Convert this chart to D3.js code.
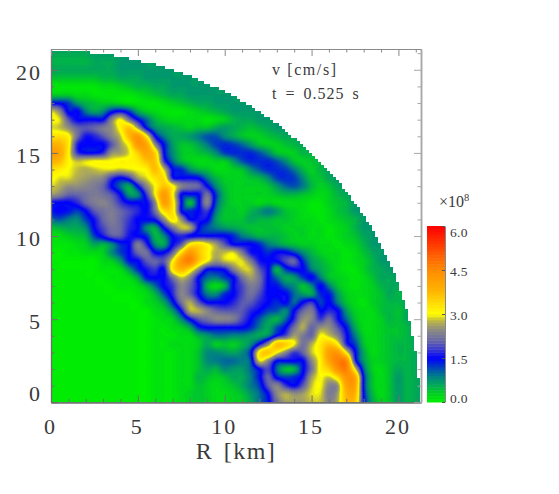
<!DOCTYPE html>
<html><head><meta charset="utf-8">
<script src="https://cdnjs.cloudflare.com/ajax/libs/d3/7.8.5/d3.min.js"></script>
<style>html,body{margin:0;background:#fff}svg{display:block}text{font-family:"Liberation Serif",serif;fill:#3a3a3a}</style>
</head><body><svg id="c" width="559" height="494"></svg>
<script>
// speed, in units of 1e7 cm/s, on a 0.5 km grid: rows run upward in z, entries rightward in R
const z00=[0,0,0,0,0,0,0,0,0,0,0,0,1,1,1,2,3,4,3,2,2,3,3,6,10,14,22,26,26,26,28,28,24,27,37,36,15,6,3,4,7,5,6];
const z05=[0,0,0,0,0,0,0,0,0,0,0,0,1,1,1,2,3,4,3,2,2,3,4,7,10,15,24,27,25,26,29,29,23,26,38,38,14,5,2,4,7,5,6];
const z10=[0,0,0,0,0,0,0,0,0,0,0,0,1,1,1,2,2,4,3,2,3,4,6,9,12,20,24,18,15,20,28,30,24,25,40,40,13,4,2,4,7,5,6];
const z15=[0,0,0,0,0,0,0,0,0,0,0,0,1,1,1,2,2,5,4,3,4,6,6,9,14,21,14,12,13,16,26,30,28,33,43,40,13,4,2,4,7,5,6];
const z20=[0,0,0,0,0,0,0,0,0,0,0,0,1,1,1,2,2,4,6,5,8,7,7,10,15,19,10,4,5,14,22,31,35,43,46,29,10,3,2,4,6,5,6];
const z25=[0,0,0,0,0,0,0,0,0,0,0,0,1,1,1,2,2,4,8,9,10,10,9,11,29,24,15,15,15,15,24,31,40,46,44,17,7,3,3,4,5,5,6];
const z30=[0,0,0,0,0,0,0,0,0,0,0,0,1,1,1,2,2,4,8,8,7,6,8,13,32,36,30,24,18,21,28,32,41,42,30,15,6,2,3,4,5,5,6];
const z35=[0,0,0,0,0,0,0,0,0,0,0,0,1,1,2,2,2,3,6,3,4,3,5,8,15,24,36,35,30,22,27,32,36,31,17,12,4,2,3,4,5,5,6];
const z40=[0,0,0,0,0,0,0,0,0,0,0,0,1,1,1,2,2,5,7,9,9,8,8,7,6,8,15,19,26,23,21,30,28,24,16,9,3,2,3,4,4,5,6];
const z45=[0,0,0,0,0,0,0,0,0,0,0,0,1,1,2,3,6,13,15,15,15,15,15,13,9,6,11,15,22,27,21,25,25,20,14,6,2,2,3,4,4,5,6];
const z50=[0,0,0,0,0,0,0,0,0,0,0,0,1,2,3,8,15,20,22,24,24,23,19,15,11,7,5,10,17,25,24,18,22,16,10,4,2,2,3,5,4,6,6];
const z55=[0,0,0,0,0,0,0,0,0,0,0,0,2,3,7,15,27,27,24,21,20,20,20,17,15,12,11,8,15,21,23,15,17,15,7,3,2,2,4,5,4,6,6];
const z60=[0,0,0,0,0,0,0,0,0,0,0,2,3,6,13,22,27,20,15,15,15,17,20,20,17,15,13,15,10,15,18,12,15,9,4,2,1,3,4,5,5,6,6];
const z65=[0,0,0,0,0,0,0,0,0,0,1,2,5,11,17,24,21,15,9,8,13,15,19,22,19,15,15,15,10,7,6,13,14,7,3,2,2,3,4,6,5,6,6];
const z70=[0,0,0,0,0,0,0,0,1,1,2,5,10,15,18,24,21,15,5,2,5,15,19,23,21,15,14,10,8,4,8,15,9,4,2,1,2,3,5,6,6,7,7];
const z75=[0,0,0,0,0,0,0,1,1,2,6,14,15,15,22,28,24,15,10,9,12,15,22,26,22,15,10,6,7,12,15,9,4,3,2,1,2,4,6,6,7,7,7];
const z80=[0,0,0,0,0,0,1,1,2,7,13,16,18,15,32,38,33,24,15,15,16,23,28,28,20,15,5,12,15,15,9,6,4,2,1,1,3,5,6,7,7,7,7];
const z85=[0,0,0,0,0,0,2,3,7,14,15,20,21,20,30,42,46,36,30,25,28,29,29,23,16,15,15,19,21,13,7,5,3,2,1,2,3,5,7,7,7,7,7];
const z90=[0,0,1,1,2,2,3,8,12,15,21,22,15,15,21,33,42,36,31,27,28,29,23,16,15,13,15,15,12,8,5,3,2,2,1,2,4,6,7,7,7,7,7];
const z95=[1,1,1,2,3,6,5,8,13,15,23,17,8,6,15,20,31,33,30,26,20,15,15,15,13,9,7,5,4,3,3,2,2,1,2,3,5,7,7,7,7,7,7];
const z100=[1,2,3,4,5,12,16,20,20,16,15,13,5,8,15,17,15,15,15,15,15,13,9,7,5,5,5,4,3,3,2,2,1,2,3,4,6,7,7,7,7,7,7];
const z105=[4,5,6,6,8,15,19,22,21,17,15,8,6,15,22,28,27,15,11,9,7,6,5,4,4,4,4,3,3,3,2,2,1,2,3,5,7,7,7,7,7,7,7];
const z110=[10,11,9,8,12,16,21,23,21,18,15,15,16,24,32,25,15,16,15,7,4,4,4,6,5,5,4,4,3,2,2,1,2,3,4,5,7,7,7,7,7,7,7];
const z115=[14,15,14,12,15,20,22,23,21,19,17,15,22,33,33,15,13,15,18,9,4,4,3,5,7,9,7,4,3,2,1,1,2,4,5,7,7,7,7,7,7,7,7];
const z120=[15,15,15,17,21,23,24,22,18,15,15,15,24,41,33,15,4,14,24,11,5,3,3,3,2,3,2,2,2,2,1,1,3,4,5,7,7,7,7,7,7,7,7];
const z125=[26,24,21,21,22,23,22,20,15,7,8,18,30,42,31,15,14,15,22,12,5,3,3,3,3,3,4,5,5,4,3,2,3,5,6,7,7,7,7,7,7,7,7];
const z130=[29,27,25,25,24,23,21,15,10,6,15,24,30,36,31,24,22,21,15,8,4,3,3,3,3,4,7,10,11,9,5,3,4,6,7,7,7,7,7,7,7,7,7];
const z135=[31,29,29,27,26,25,24,18,15,18,26,29,33,33,16,15,15,14,9,5,3,3,3,4,5,8,12,13,12,8,4,4,6,7,7,7,7,7,7,7,7,7,7];
const z140=[33,32,30,28,27,28,29,29,28,29,30,31,37,28,15,13,8,5,4,2,2,3,4,8,11,13,13,12,9,5,3,5,6,7,7,7,7,7,7,7,7,7,7];
const z145=[38,37,31,28,29,30,30,30,31,31,32,36,36,18,10,5,3,2,2,3,3,7,11,13,13,13,11,8,4,3,4,5,6,7,7,7,7,7,7,7,7,7,7];
const z150=[42,40,31,18,15,15,17,25,26,29,35,40,34,15,8,4,3,4,5,8,12,13,13,13,11,8,4,3,3,5,5,6,7,7,7,7,7,7,7,7,7,7,7];
const z155=[38,38,32,17,15,15,15,20,26,31,42,40,24,14,7,4,4,6,9,12,13,12,10,7,4,3,3,4,5,6,6,7,7,7,7,7,7,7,7,7,7,7,7];
const z160=[33,33,31,22,16,17,20,24,28,37,42,31,15,9,6,6,7,9,11,11,8,6,4,3,3,4,5,6,6,7,7,7,7,7,7,7,7,7,7,7,7,7,7];
const z165=[29,28,25,21,20,21,23,25,31,36,26,14,8,6,5,4,3,4,4,6,7,6,5,4,5,6,7,7,7,7,7,7,7,7,7,7,7,7,7,7,7,7,7];
const z170=[30,29,20,15,15,15,15,24,30,22,15,10,5,3,2,2,2,2,1,2,3,5,6,6,7,7,7,7,7,7,7,7,7,7,7,7,7,7,7,7,7,7,7];
const z175=[29,24,14,15,9,6,8,13,15,12,6,3,2,1,1,1,2,3,4,5,6,7,7,7,7,7,7,7,7,7,7,7,7,7,7,7,7,7,7,7,7,7,7];
const z180=[14,14,12,7,5,4,3,3,2,1,1,1,1,2,3,4,5,6,6,7,7,7,7,7,7,7,7,7,7,7,7,7,7,7,7,7,7,7,7,7,7,7,7];
const z185=[3,3,3,2,2,1,1,1,1,1,2,3,4,5,6,6,7,7,7,7,7,7,7,7,7,7,7,7,7,7,7,7,7,7,7,7,7,7,7,7,7,7,7];
const z190=[1,1,1,1,1,1,2,2,3,4,5,5,6,6,7,7,7,7,7,7,7,7,7,7,7,7,7,7,7,7,7,7,7,7,7,7,7,7,7,7,7,7,7];
const z195=[4,4,4,4,4,4,5,5,6,6,6,7,7,7,7,7,7,7,7,7,7,7,7,7,7,7,7,7,7,7,7,7,7,7,7,7,7,7,7,7,7,7,7];
const z200=[6,6,6,6,6,6,6,6,7,7,7,7,7,7,7,7,7,7,7,7,7,7,7,7,7,7,7,7,7,7,7,7,7,7,7,7,7,7,7,7,7,7,7];
const z205=[5,5,5,5,5,6,6,6,7,7,7,7,7,7,7,7,7,7,7,7,7,7,7,7,7,7,7,7,7,7,7,7,7,7,7,7,7,7,7,7,7,7,7];
const z210=[6,6,6,6,6,7,7,7,7,7,7,7,7,7,7,7,7,7,7,7,7,7,7,7,7,7,7,7,7,7,7,7,7,7,7,7,7,7,7,7,7,7,7];
const gridRows=[z00,z05,z10,z15,z20,z25,z30,z35,z40,z45,z50,z55,z60,z65,z70,z75,z80,z85,z90,z95,z100,z105,z110,z115,z120,z125,z130,z135,z140,z145,z150,z155,z160,z165,z170,z175,z180,z185,z190,z195,z200,z205,z210];

const colorValues=[0,3,6,9,12,15,18,21,25,28,30,38,45,60];
const colorHexes=["#00f000","#00d020","#00a858","#007f88","#0040c0","#0000ff","#3838d0","#6868a8","#908f80","#c0bb40","#ffff00","#ffb400","#ff8c00","#ff0000"];
const cbTicks=[0,1.5,3,4.5,6];
const axisTicks=[0,5,10,15,20];
const minorTicks=d3.range(0,22);
const titleLines=["v [cm/s]","t = 0.525 s"];
const gridSize=0.5, radiusR=21.2, radiusZ=21.16, nCols=43, nRows=43, ups=4;

const svg=d3.select("#c");
const x=d3.scaleLinear().domain([0,21.3]).range([51,421]);
const y=d3.scaleLinear().domain([0,21.25]).range([402.3,49]);
const color=d3.scaleLinear().domain(colorValues).range(colorHexes).clamp(true);

// stair-stepped outer edge
const stairPx=3, q=v=>Math.round(v/stairPx)*stairPx, clipP=d3.path();
clipP.moveTo(x(0.06),y(0));
let px=q(x(radiusR)), py=y(0);
clipP.lineTo(px,py);
d3.range(0,Math.PI/2,0.004).forEach(a=>{
  const nx=q(x(radiusR*Math.cos(a))), ny=q(y(radiusZ*Math.sin(a)))+0.3;
  if(nx!==px||ny!==py){clipP.lineTo(px,ny);clipP.lineTo(nx,ny);px=nx;py=ny;}
});
clipP.lineTo(x(0.06),py);clipP.closePath();
svg.append("defs").append("clipPath").attr("id","disk").append("path").attr("d",clipP.toString());

// smooth the read-off grid for display (Catmull-Rom), then fill contour bands
const at=(i,j)=>gridRows[Math.max(0,Math.min(nRows-1,j))][Math.max(0,Math.min(nCols-1,i))];
const cr=(a,b,c,d,t)=>0.5*((2*b)+(-a+c)*t+(2*a-5*b+4*c-d)*t*t+(-a+3*b-3*c+d)*t*t*t);
function sample(u,v){
  const i=Math.floor(u),j=Math.floor(v),s=u-i,t=v-j,col=[];
  for(let m=-1;m<=2;m++)col.push(cr(at(i-1,j+m),at(i,j+m),at(i+1,j+m),at(i+2,j+m),s));
  return cr(col[0],col[1],col[2],col[3],t);
}
const fine=(nCols+1)*ups;
const flat=new Float64Array(fine*fine);
for(let b=0;b<fine;b++)for(let a=0;a<fine;a++)flat[b*fine+a]=sample(a/ups,b/ups);
const thresholds=d3.range(0,52,0.5);
const contours=d3.contours().size([fine,fine]).thresholds(thresholds)(flat);
const proj=d3.geoPath(d3.geoTransform({point(a,b){this.stream.point(x((a-.5)/ups*gridSize),y((b-.5)/ups*gridSize));}}));
const g=svg.append("g").attr("clip-path","url(#disk)");
g.append("rect").attr("x",x(0)).attr("y",y(21.25)).attr("width",x(21.3)-x(0)).attr("height",y(0)-y(21.25)).attr("fill",color(0));
g.selectAll("path").data(contours).join("path").attr("d",proj).attr("fill",d=>color(d.value+0.25)).attr("stroke",d=>color(d.value+0.25)).attr("stroke-width",0.3);

// axes
const fs=22;
function sty(a,c,w){a.selectAll("path,line").attr("stroke",c);a.select(".domain").attr("stroke-width",w);}
const bottomMaj=svg.append("g").attr("transform","translate(0,402.3)").call(d3.axisBottom(x).tickValues(axisTicks).tickSize(-7).tickSizeOuter(0).tickPadding(16));
const bottomMin=svg.append("g").attr("transform","translate(0,402.3)").call(d3.axisBottom(x).tickValues(minorTicks.filter(v=>v%5)).tickSize(-3.5).tickSizeOuter(0).tickFormat(""));
const leftMaj=svg.append("g").attr("transform","translate(51,0)").call(d3.axisLeft(y).tickValues(axisTicks).tickSize(-7).tickSizeOuter(0).tickPadding(9));
const leftMin=svg.append("g").attr("transform","translate(51,0)").call(d3.axisLeft(y).tickValues(minorTicks.filter(v=>v%5)).tickSize(-3.5).tickSizeOuter(0).tickFormat(""));
const topMaj=svg.append("g").attr("transform","translate(0,49)").call(d3.axisTop(x).tickValues(axisTicks).tickSize(-7).tickSizeOuter(0).tickFormat(""));
const topMin=svg.append("g").attr("transform","translate(0,49)").call(d3.axisTop(x).tickValues(minorTicks.filter(v=>v%5)).tickSize(-3.5).tickSizeOuter(0).tickFormat(""));
const rightMaj=svg.append("g").attr("transform","translate(421,0)").call(d3.axisRight(y).tickValues(axisTicks).tickSize(-7).tickSizeOuter(0).tickFormat(""));
const rightMin=svg.append("g").attr("transform","translate(421,0)").call(d3.axisRight(y).tickValues(minorTicks.filter(v=>v%5)).tickSize(-3.5).tickSizeOuter(0).tickFormat(""));
[bottomMaj,bottomMin,leftMaj,leftMin].forEach(a=>sty(a,"#707070",1.2));
[topMaj,topMin].forEach(a=>sty(a,"#8a8a8a",1.2));
[rightMaj,rightMin].forEach(a=>sty(a,"#a8a8a8",1.5));
[bottomMaj,leftMaj].forEach(a=>a.selectAll("text").attr("font-size",fs).style("letter-spacing","2px").attr("font-family",null));
bottomMaj.selectAll("text").attr("dx",-1);
leftMaj.selectAll("text").attr("dy",d=>d===0?"-0.1em":"0.42em");

svg.append("text").attr("x",236).attr("y",459).attr("text-anchor","middle").attr("font-size",24).style("letter-spacing","1.5px").style("word-spacing","3px").text("R [km]");
svg.append("text").attr("x",272).attr("y",75).attr("font-size",16).style("letter-spacing","1.6px").text(titleLines[0]);
svg.append("text").attr("x",272).attr("y",99).attr("font-size",16).style("letter-spacing","1px").style("word-spacing","3px").text(titleLines[1]);

// colour bar
const cb=d3.scaleLinear().domain([0,6]).range([402,226]);
svg.append("g").selectAll("rect").data(d3.range(0,60)).join("rect")
 .attr("x",427).attr("width",18).attr("y",d=>cb((d+1)/10)).attr("height",d=>cb(d/10)-cb((d+1)/10)+0.5).attr("fill",d=>color(d+0.5));
const cbAxis=svg.append("g").attr("transform","translate(445,0)").call(d3.axisRight(cb).tickValues(cbTicks).tickSize(-3).tickSizeOuter(0).tickPadding(5).tickFormat(d3.format(".1f")));
cbAxis.select(".domain").attr("stroke","#888");cbAxis.selectAll("line").attr("stroke","#555");
cbAxis.selectAll("text").attr("font-size",13.5).attr("font-family",null).style("letter-spacing","0.3px").attr("dy",d=>d===0?"0":d===6?"0.75em":"0.4em");
svg.append("text").attr("x",439).attr("y",207).attr("font-size",16).html('×10<tspan dy="-6" font-size="10.5">8</tspan>');
</script></body></html>
